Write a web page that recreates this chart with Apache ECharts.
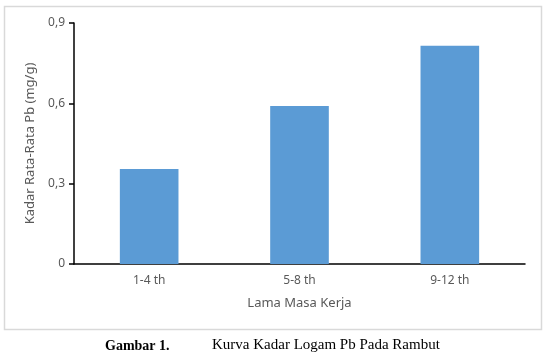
<!DOCTYPE html>
<html>
<head>
<meta charset="utf-8">
<script src="https://cdn.jsdelivr.net/npm/echarts@6/dist/echarts.min.js"></script>
<style>
html, body { margin: 0; padding: 0; background: #fff; }
#chart { width: 546px; height: 356px; }
</style>
</head>
<body>
<div id="chart"></div>
<script>
// data
var categories = ['1-4 th', '5-8 th', '9-12 th'];
var kadarPb = [0.355, 0.59, 0.815];
var yTicks = [0, 0.9, 0.3];   // min, max, interval

var myChart = echarts.init(document.getElementById('chart'));
var font = '"Noto Sans", sans-serif';

var option = {
    animation: false,
    graphic: [
        {
            type: 'rect',
            shape: { x: 4.5, y: 6.5, width: 537, height: 323 },
            style: { fill: 'none', stroke: '#d9d9d9', lineWidth: 1.5 }
        },
        {
            type: 'text', left: 105, top: 339,
            style: { text: 'Gambar 1.', font: 'bold 14px "Liberation Serif", serif', fill: '#000' }
        },
        {
            type: 'text', left: 212, top: 338,
            style: { text: 'Kurva Kadar Logam Pb Pada Rambut', font: '15px "Liberation Serif", serif', fill: '#000' }
        }
    ],
    grid: { left: 74, right: 21, top: 23, bottom: 92 },
    xAxis: {
        type: 'category',
        data: categories,
        name: 'Lama Masa Kerja',
        nameLocation: 'middle',
        nameGap: 33,
        nameTextStyle: { color: '#595959', fontSize: 13, fontFamily: font },
        axisLine: { lineStyle: { color: '#000', width: 1.5 } },
        axisTick: { show: false },
        axisLabel: { color: '#595959', fontSize: 12, fontFamily: font, margin: 11 }
    },
    yAxis: {
        type: 'value',
        min: yTicks[0],
        max: yTicks[1],
        interval: yTicks[2],
        name: 'Kadar Rata-Rata Pb (mg/g)',
        nameLocation: 'middle',
        nameGap: 37,
        nameTextStyle: { color: '#595959', fontSize: 13, fontFamily: font },
        splitLine: { show: false },
        axisLine: { show: true, lineStyle: { color: '#000', width: 1.5 } },
        axisTick: { show: true, length: 5, lineStyle: { color: '#000', width: 1.5 } },
        axisLabel: {
            color: '#595959', fontSize: 12, fontFamily: font, margin: 9,
            formatter: function (v) {
                return v === 0 ? '0' : v.toFixed(1).replace('.', ',');
            }
        }
    },
    series: [
        {
            type: 'bar',
            data: kadarPb,
            barWidth: '39%',
            itemStyle: { color: '#5b9bd5' }
        }
    ]
};
myChart.setOption(option);
</script>
</body>
</html>
